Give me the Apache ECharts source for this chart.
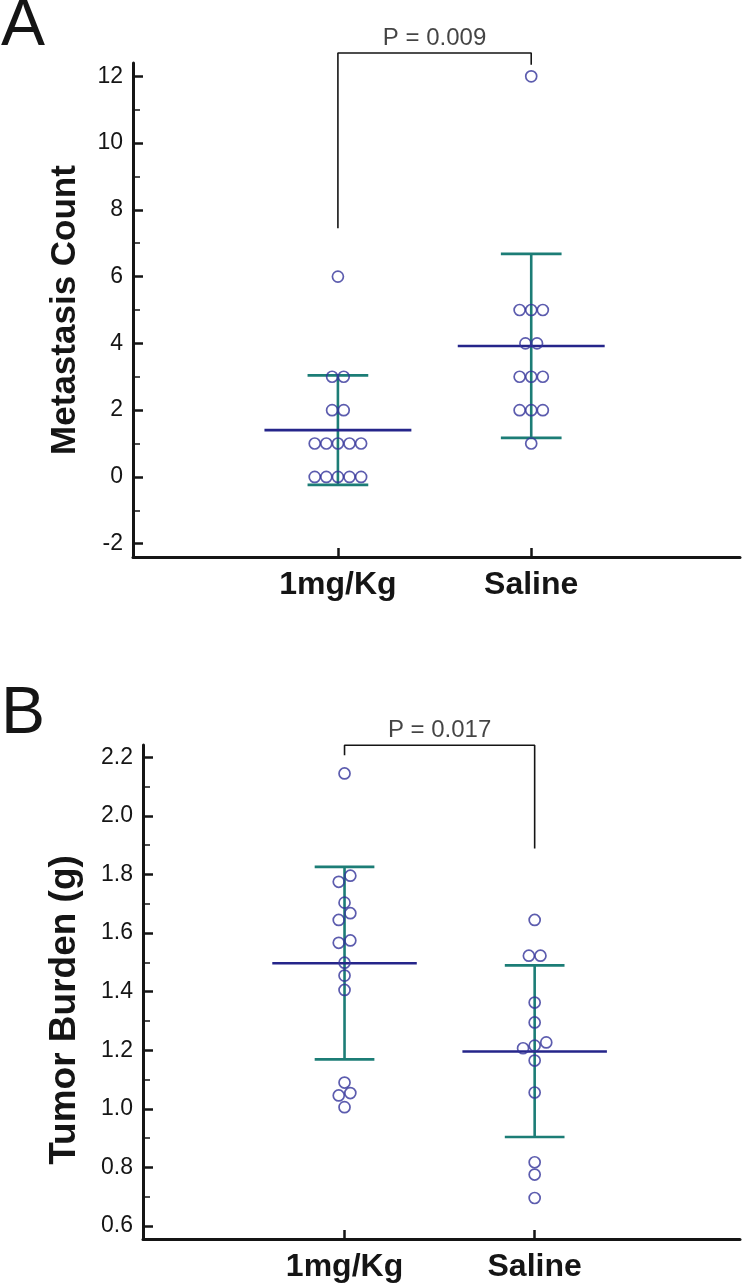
<!DOCTYPE html>
<html><head><meta charset="utf-8">
<script src="https://cdn.jsdelivr.net/npm/echarts@6/dist/echarts.min.js"></script>
<style>html,body{margin:0;padding:0;background:#fff}#c{width:744px;height:1288px}</style>
</head><body><div id="c"></div>
<script>
// ---- data ----
const categories = ['1mg/Kg', 'Saline'];
// Panel A: metastasis count
const countDose = [6, 3, 3, 2, 2, 1, 1, 1, 1, 1, 0, 0, 0, 0, 0];
const countSaline = [12, 5, 5, 5, 4, 4, 3, 3, 3, 2, 2, 2, 1];
const countMean = [1.40, 3.92];
const countSdLow = [-0.24, 1.17];
const countSdHigh = [3.04, 6.68];
const countTicks = [-2, 0, 2, 4, 6, 8, 10, 12];
const countMinorTicks = [-1, 1, 3, 5, 7, 9, 11];
const countBracket = [7.45, 12.7, 12.35]; // left leg end, bar level, right leg end
const countP = 'P = 0.009';
const countTitle = 'Metastasis Count';
// Panel B: tumor burden (g)
const burdenDose = [2.145, 1.796, 1.775, 1.704, 1.668, 1.645, 1.575, 1.567, 1.499, 1.455, 1.406, 1.090, 1.054, 1.046, 1.006];
const burdenSaline = [1.645, 1.523, 1.523, 1.363, 1.295, 1.227, 1.216, 1.207, 1.165, 1.056, 0.818, 0.776, 0.696];
const burdenMean = [1.497, 1.196];
const burdenSdLow = [1.169, 0.904];
const burdenSdHigh = [1.826, 1.490];
const burdenTicks = [0.6, 0.8, 1.0, 1.2, 1.4, 1.6, 1.8, 2.0, 2.2];
const burdenMinorTicks = [0.7, 0.9, 1.1, 1.3, 1.5, 1.7, 1.9, 2.1];
const burdenBracket = [2.207, 2.241, 1.889];
const burdenP = 'P = 0.017';
const burdenTitle = 'Tumor Burden (g)';

// ---- styles ----
const FONT = "'Liberation Sans', Arial, Helvetica, sans-serif";
const INK = '#151515';
const NAVY = '#25258a';
const TEAL = '#1c7d76';
const DOT = '#33339a';

const chart = echarts.init(document.getElementById('c'), null, {renderer: 'canvas'});

function xAxisCfg(gi) {
  return {
    type: 'value', gridIndex: gi, min: -0.06, max: 3.08,
    axisLine: {show: true, onZero: false, lineStyle: {color: INK, width: 3}},
    axisTick: {show: true, inside: true, length: 9, customValues: [1, 2], lineStyle: {color: INK, width: 2.5}},
    axisLabel: {show: true, customValues: [1, 2], formatter: v => categories[Math.round(v) - 1] || '',
      fontFamily: FONT, fontWeight: 'bold', fontSize: 32, color: INK, margin: 12},
    splitLine: {show: false}
  };
}
function yAxisCfg(gi, min, max, ticks, dec) {
  return {
    type: 'value', gridIndex: gi, min: min, max: max, position: 'left',
    axisLine: {show: true, onZero: false, lineStyle: {color: INK, width: 3}},
    axisTick: {show: true, inside: true, length: 10, customValues: ticks, lineStyle: {color: INK, width: 2.5}},
    axisLabel: {show: true, customValues: ticks, formatter: v => Number(v).toFixed(dec),
      fontFamily: FONT, fontSize: 23, color: INK, margin: 10},
    splitLine: {show: false}
  };
}
function yMinorCfg(gi, min, max, ticks) {
  return {
    type: 'value', gridIndex: gi, min: min, max: max, position: 'left', offset: 0,
    axisLine: {show: false, onZero: false},
    axisTick: {show: true, inside: true, length: 7, customValues: ticks, lineStyle: {color: INK, width: 1.5}},
    axisLabel: {show: false},
    splitLine: {show: false}
  };
}

function dotSeries(id, gi, yi, cat, values) {
  return {
    id: id, type: 'scatter', xAxisIndex: gi, yAxisIndex: yi, z: 5,
    symbol: 'circle', symbolSize: 11,
    itemStyle: {color: 'rgba(255,255,255,0)', borderColor: DOT, borderWidth: 1.7},
    data: values.map(v => ({value: [cat, v]})),
    silent: true
  };
}
function barSeries(gi, yi, mean, lo, hi) {
  return {
    type: 'custom', xAxisIndex: gi, yAxisIndex: yi, z: 3, silent: true,
    data: categories.map((c, i) => [i + 1, mean[i], lo[i], hi[i]]),
    renderItem: function (params, api) {
      const x = api.value(0), m = api.value(1), lo = api.value(2), hi = api.value(3);
      const pLo = api.coord([x, lo]), pHi = api.coord([x, hi]);
      const capL = api.coord([x - 0.157, lo]), capR = api.coord([x + 0.157, lo]);
      const capL2 = api.coord([x - 0.157, hi]), capR2 = api.coord([x + 0.157, hi]);
      const mL = api.coord([x - 0.38, m]), mR = api.coord([x + 0.38, m]);
      const teal = {stroke: TEAL, lineWidth: 2.6};
      return {type: 'group', children: [
        {type: 'line', shape: {x1: pLo[0], y1: pLo[1], x2: pHi[0], y2: pHi[1]}, style: teal},
        {type: 'line', shape: {x1: capL[0], y1: capL[1], x2: capR[0], y2: capR[1]}, style: teal},
        {type: 'line', shape: {x1: capL2[0], y1: capL2[1], x2: capR2[0], y2: capR2[1]}, style: teal},
        {type: 'line', shape: {x1: mL[0], y1: mL[1], x2: mR[0], y2: mR[1]}, style: {stroke: NAVY, lineWidth: 2.6}}
      ]};
    }
  };
}
function bracketSeries(gi, yi, b) {
  return {
    type: 'line', xAxisIndex: gi, yAxisIndex: yi, clip: false, silent: true,
    symbol: 'none', lineStyle: {color: INK, width: 1.6}, z: 4,
    data: [[1, b[0]], [1, b[1]], [2, b[1]], [2, b[2]]]
  };
}
function pSeries(gi, yi, b, text) {
  return {
    type: 'scatter', xAxisIndex: gi, yAxisIndex: yi, clip: false, silent: true,
    symbolSize: 0, data: [[1.5, b[1]]],
    label: {show: true, position: 'top', distance: 3, formatter: text,
      fontFamily: FONT, fontSize: 24, color: INK}
  };
}
function titleText(text, x, y, size) {
  return {type: 'text', x: x, y: y, rotation: Math.PI / 2,
    style: {text: text, fontFamily: FONT, fontWeight: 'bold', fontSize: size, fill: INK,
      align: 'center', verticalAlign: 'middle'}};
}

const option = {
  animation: false,
  backgroundColor: '#ffffff',
  grid: [
    {left: 133, top: 63, width: 607, height: 494},
    {left: 143, top: 745, width: 597, height: 494}
  ],
  xAxis: [xAxisCfg(0), xAxisCfg(1)],
  yAxis: [
    yAxisCfg(0, -2.4, 12.4, countTicks, 0),
    yMinorCfg(0, -2.4, 12.4, countMinorTicks),
    yAxisCfg(1, 0.556, 2.242, burdenTicks, 1),
    yMinorCfg(1, 0.556, 2.242, burdenMinorTicks)
  ],
  graphic: [
    {type: 'text', left: 1, top: -6, style: {text: 'A', fontFamily: FONT, fontSize: 66, fill: INK}},
    {type: 'text', left: 1, top: 682, style: {text: 'B', fontFamily: FONT, fontSize: 66, fill: INK}},
    titleText(countTitle, 65, 310, 35),
    titleText(burdenTitle, 65, 1010, 37)
  ],
  series: [
    barSeries(0, 0, countMean, countSdLow, countSdHigh),
    dotSeries('a1', 0, 0, 1, countDose),
    dotSeries('a2', 0, 0, 2, countSaline),
    bracketSeries(0, 0, countBracket),
    pSeries(0, 0, countBracket, countP),
    barSeries(1, 2, burdenMean, burdenSdLow, burdenSdHigh),
    dotSeries('b1', 1, 2, 1, burdenDose),
    dotSeries('b2', 1, 2, 2, burdenSaline),
    bracketSeries(1, 2, burdenBracket),
    pSeries(1, 2, burdenBracket, burdenP)
  ]
};
chart.setOption(option);

// Spread near-coincident dots sideways (dot-plot style), computed in pixel space
function spread(values, gi, yi, cat) {
  const ys = values.map(v => chart.convertToPixel({xAxisIndex: gi, yAxisIndex: yi}, [cat, v])[1]);
  const order = ys.map((y, i) => i).sort((a, b) => ys[a] - ys[b]);
  const offs = new Array(values.length).fill(0);
  const spacing = 11.6, tol = 9;
  let group = [order[0]];
  const flush = g => g.forEach((idx, k) => { offs[idx] = ((g.length - 1) / 2 - k) * spacing; });
  for (let j = 1; j < order.length; j++) {
    if (ys[order[j]] - ys[order[j - 1]] < tol) group.push(order[j]);
    else { flush(group); group = [order[j]]; }
  }
  flush(group);
  return values.map((v, i) => ({value: [cat, v], symbolOffset: [offs[i], 0]}));
}
chart.setOption({series: [
  {id: 'a1', data: spread(countDose, 0, 0, 1)},
  {id: 'a2', data: spread(countSaline, 0, 0, 2)},
  {id: 'b1', data: spread(burdenDose, 1, 2, 1)},
  {id: 'b2', data: spread(burdenSaline, 1, 2, 2)}
]});
</script></body></html>
